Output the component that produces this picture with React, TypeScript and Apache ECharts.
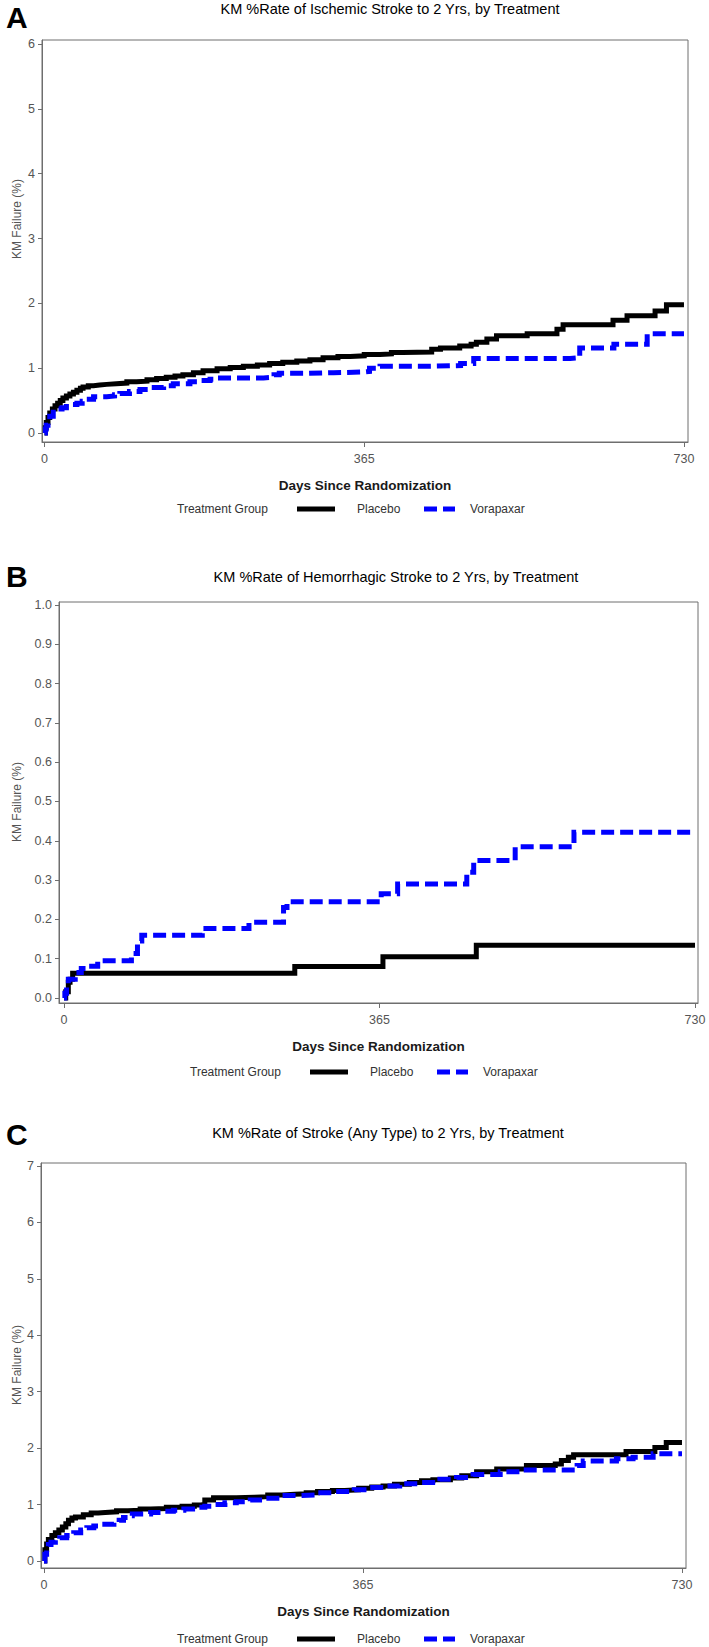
import React, { useEffect, useRef } from "react";
import * as echarts from "echarts";

const FONT = "'Liberation Sans', Arial, Helvetica, sans-serif";
const AXIS = "#6e6e6e";
const TICK_TEXT = "#555555";
const BLUE = "#0000ff";

const xTicks = [0, 365, 730];
const yTicksA = [0, 1, 2, 3, 4, 5, 6];
const yTicksB = [0, 0.1, 0.2, 0.3, 0.4, 0.5, 0.6, 0.7, 0.8, 0.9, 1.0];
const yTicksC = [0, 1, 2, 3, 4, 5, 6, 7];

const panelLetters = ["A", "B", "C"];
const panelTitles = [
  "KM %Rate of Ischemic Stroke to 2 Yrs, by Treatment",
  "KM %Rate of Hemorrhagic Stroke to 2 Yrs, by Treatment",
  "KM %Rate of Stroke (Any Type) to 2 Yrs, by Treatment",
];
const groupNames = ["Placebo", "Vorapaxar"];

// Panel A: ischemic stroke (day, KM failure %)
const placeboA = [
  [0, 0], [1, 0.08], [2, 0.16], [4, 0.24], [6, 0.31], [9, 0.37], [12, 0.42], [15, 0.46],
  [18, 0.5], [21, 0.54], [25, 0.57], [29, 0.6], [33, 0.63], [37, 0.66], [41, 0.69], [44, 0.71],
  [50, 0.73], [56, 0.74], [63, 0.75], [71, 0.76], [82, 0.77], [94, 0.79], [105, 0.8], [117, 0.82],
  [128, 0.84], [139, 0.86], [149, 0.88], [158, 0.9], [170, 0.93], [181, 0.96], [197, 0.99],
  [212, 1.01], [227, 1.03], [243, 1.05], [257, 1.07], [272, 1.09], [288, 1.11], [303, 1.13],
  [318, 1.16], [335, 1.18], [349, 1.19], [365, 1.21], [383, 1.22], [396, 1.24], [409, 1.25],
  [442, 1.29], [452, 1.31], [474, 1.34], [487, 1.37], [493, 1.4], [505, 1.45], [516, 1.5],
  [551, 1.53], [585, 1.6], [592, 1.67], [649, 1.74], [665, 1.81], [697, 1.88], [710, 1.98],
  [730, 1.98],
];
const vorapaxarA = [
  [0, 0], [1, 0.06], [2, 0.12], [4, 0.2], [6, 0.26], [10, 0.32], [14, 0.37], [20, 0.39],
  [25, 0.41], [31, 0.44], [37, 0.46], [43, 0.49], [48, 0.52], [56, 0.56], [71, 0.57], [80, 0.59],
  [86, 0.61], [97, 0.64], [109, 0.67], [122, 0.7], [136, 0.73], [147, 0.76], [166, 0.79],
  [178, 0.81], [189, 0.83], [197, 0.85], [250, 0.86], [262, 0.9], [268, 0.92], [300, 0.93],
  [330, 0.94], [364, 0.95], [371, 1.0], [383, 1.03], [440, 1.04], [475, 1.07], [490, 1.15],
  [600, 1.16], [611, 1.31], [650, 1.37], [688, 1.53], [730, 1.53],
];

// Panel B: hemorrhagic stroke
const placeboB = [
  [0, 0], [2, 0.016], [5, 0.04], [7, 0.048], [10, 0.063], [267, 0.08], [369, 0.105],
  [477, 0.134], [730, 0.134],
];
const vorapaxarB = [
  [0, 0], [1, 0.012], [3, 0.035], [5, 0.048], [13, 0.065], [20, 0.075], [26, 0.081],
  [39, 0.095], [78, 0.113], [85, 0.145], [90, 0.16], [160, 0.177], [214, 0.193], [254, 0.23],
  [258, 0.245], [367, 0.265], [386, 0.29], [466, 0.32], [474, 0.35], [522, 0.385],
  [590, 0.422], [730, 0.422],
];

// Panel C: stroke of any type
const placeboC = [
  [0, 0], [1, 0.2], [3, 0.3], [5, 0.38], [9, 0.45], [13, 0.5], [17, 0.55], [21, 0.6], [25, 0.66],
  [28, 0.72], [32, 0.76], [36, 0.78], [45, 0.82], [54, 0.85], [62, 0.86], [70, 0.87], [83, 0.89],
  [96, 0.9], [110, 0.92], [122, 0.93], [140, 0.95], [158, 0.97], [172, 0.99], [179, 1.0],
  [184, 1.08], [194, 1.12], [220, 1.13], [241, 1.14], [256, 1.17], [272, 1.18], [287, 1.19],
  [300, 1.21], [313, 1.23], [330, 1.25], [344, 1.26], [360, 1.29], [375, 1.31], [388, 1.33],
  [401, 1.36], [418, 1.39], [432, 1.42], [445, 1.44], [465, 1.47], [478, 1.51], [495, 1.58],
  [518, 1.63], [552, 1.69], [585, 1.72], [592, 1.78], [600, 1.84], [606, 1.88], [666, 1.94],
  [699, 2.01], [712, 2.1], [730, 2.1],
];
const vorapaxarC = [
  [0, 0], [1, 0.12], [3, 0.24], [5, 0.29], [8, 0.33], [13, 0.37], [18, 0.41], [26, 0.45],
  [34, 0.5], [42, 0.55], [49, 0.59], [57, 0.62], [65, 0.65], [80, 0.68], [86, 0.72], [91, 0.77],
  [96, 0.8], [101, 0.83], [122, 0.86], [135, 0.88], [148, 0.9], [160, 0.92], [173, 0.95],
  [184, 0.97], [194, 1.0], [207, 1.03], [220, 1.05], [236, 1.08], [251, 1.11], [272, 1.16],
  [293, 1.17], [313, 1.21], [331, 1.23], [355, 1.26], [369, 1.3], [391, 1.33], [407, 1.37],
  [430, 1.39], [453, 1.45], [472, 1.48], [491, 1.53], [522, 1.58], [545, 1.61], [610, 1.69],
  [617, 1.77], [655, 1.81], [674, 1.84], [697, 1.9], [730, 1.9],
];

// layout per panel (pixels) and axis extents (small offsets like the SAS frame)
const panels = [
  {
    grid: { left: 42, top: 40, width: 646, height: 402 },
    xMin: -2.85, xMax: 734.6, yMin: -0.139, yMax: 6.062,
    yTicks: yTicksA, dec: 0, placebo: placeboA, vorapaxar: vorapaxarA,
    letterY: 17, titleX: 390, titleY: 10, yNameY: 219, legendY: 509, legendDx: 0,
  },
  {
    grid: { left: 59, top: 602, width: 639, height: 401 },
    xMin: -5.78, xMax: 733.5, yMin: -0.0127, yMax: 1.0076,
    yTicks: yTicksB, dec: 1, placebo: placeboB, vorapaxar: vorapaxarB,
    letterY: 576, titleX: 396, titleY: 578, yNameY: 802, legendY: 1072, legendDx: 13,
  },
  {
    grid: { left: 41, top: 1163, width: 645, height: 405 },
    xMin: -3.43, xMax: 734.6, yMin: -0.125, yMax: 7.053,
    yTicks: yTicksC, dec: 0, placebo: placeboC, vorapaxar: vorapaxarC,
    letterY: 1134, titleX: 388, titleY: 1134, yNameY: 1365, legendY: 1639, legendDx: 0,
  },
];

function buildOption() {
  const grid: any[] = [];
  const xAxis: any[] = [];
  const yAxis: any[] = [];
  const series: any[] = [];
  const title: any[] = [];
  const graphic: any[] = [];

  panels.forEach((p, i) => {
    grid.push({
      ...p.grid,
      show: true,
      borderColor: AXIS,
      borderWidth: 1,
      backgroundColor: "transparent",
      containLabel: false,
    });
    xAxis.push({
      type: "value",
      gridIndex: i,
      min: p.xMin,
      max: p.xMax,
      axisLine: { show: true, onZero: false, lineStyle: { color: AXIS, width: 1 } },
      axisTick: { show: true, customValues: xTicks, length: 5, lineStyle: { color: AXIS } },
      axisLabel: {
        customValues: xTicks,
        margin: 10,
        color: TICK_TEXT,
        fontSize: 12.5,
        fontFamily: FONT,
      },
      splitLine: { show: false },
      name: "Days Since Randomization",
      nameLocation: "middle",
      nameGap: 36,
      nameTextStyle: { fontSize: 13.5, fontWeight: "bold", color: "#1a1a1a", fontFamily: FONT },
    });
    yAxis.push({
      type: "value",
      gridIndex: i,
      min: p.yMin,
      max: p.yMax,
      axisLine: { show: true, onZero: false, lineStyle: { color: AXIS, width: 1 } },
      axisTick: { show: true, customValues: p.yTicks, length: 4, lineStyle: { color: AXIS } },
      axisLabel: {
        customValues: p.yTicks,
        margin: 7,
        color: TICK_TEXT,
        fontSize: 12.5,
        fontFamily: FONT,
        formatter: (v: number) => v.toFixed(p.dec),
      },
      splitLine: { show: false },
    });
    series.push({
      type: "line",
      name: groupNames[0],
      xAxisIndex: i,
      yAxisIndex: i,
      data: p.placebo,
      step: "end",
      symbol: "none",
      lineStyle: { color: "#000000", width: 5, cap: "butt", join: "miter" },
      z: 2,
    });
    series.push({
      type: "line",
      name: groupNames[1],
      xAxisIndex: i,
      yAxisIndex: i,
      data: p.vorapaxar,
      step: "end",
      symbol: "none",
      lineStyle: { color: BLUE, width: 5, type: [13, 6], cap: "butt", join: "miter" },
      z: 3,
    });
    title.push({
      text: panelTitles[i],
      left: p.titleX,
      top: p.titleY - 9,
      padding: 0,
      textAlign: "center",
      textStyle: { fontSize: 14.5, fontWeight: "normal", color: "#000", fontFamily: FONT },
    });
    graphic.push({
      type: "text",
      x: 6,
      y: p.letterY,
      style: {
        text: panelLetters[i],
        fontSize: 30,
        fontWeight: "bold",
        fontFamily: FONT,
        fill: "#000",
        align: "left",
        verticalAlign: "middle",
      },
    });
    graphic.push({
      type: "text",
      x: 17,
      y: p.yNameY,
      rotation: Math.PI / 2,
      style: {
        text: "KM Failure (%)",
        fontSize: 12,
        fontFamily: FONT,
        fill: TICK_TEXT,
        align: "center",
        verticalAlign: "middle",
      },
    });
    const ly = p.legendY;
    const dx = p.legendDx;
    graphic.push({
      type: "text",
      x: 177 + dx,
      y: ly,
      style: { text: "Treatment Group", fontSize: 12, fontFamily: FONT, fill: "#333", verticalAlign: "middle" },
    });
    graphic.push({
      type: "line",
      shape: { x1: 297 + dx, y1: ly, x2: 335 + dx, y2: ly },
      style: { stroke: "#000", lineWidth: 5 },
    });
    graphic.push({
      type: "text",
      x: 357 + dx,
      y: ly,
      style: { text: groupNames[0], fontSize: 12, fontFamily: FONT, fill: "#333", verticalAlign: "middle" },
    });
    graphic.push({
      type: "line",
      shape: { x1: 424 + dx, y1: ly, x2: 455 + dx, y2: ly },
      style: { stroke: BLUE, lineWidth: 5, lineDash: [13, 6] },
    });
    graphic.push({
      type: "text",
      x: 470 + dx,
      y: ly,
      style: { text: groupNames[1], fontSize: 12, fontFamily: FONT, fill: "#333", verticalAlign: "middle" },
    });
  });

  return {
    animation: false,
    backgroundColor: "#ffffff",
    textStyle: { fontFamily: FONT },
    title,
    grid,
    xAxis,
    yAxis,
    series,
    graphic,
  };
}

export default function App() {
  const ref = useRef<HTMLDivElement>(null);
  useEffect(() => {
    if (!ref.current) return;
    const chart = echarts.init(ref.current, undefined, { renderer: "svg" });
    chart.setOption(buildOption() as any);
    return () => chart.dispose();
  }, []);
  return (
    <div
      ref={ref}
      style={{ position: "absolute", left: 0, top: 0, width: 709, height: 1647, background: "#fff" }}
    />
  );
}
